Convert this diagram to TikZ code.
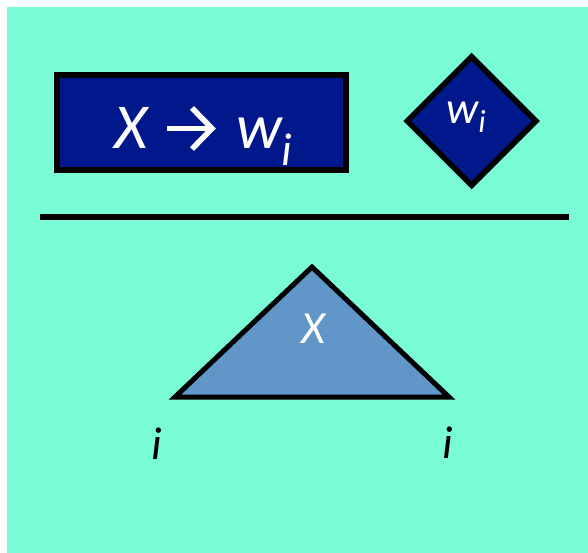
\documentclass[tikz,border=0pt]{standalone}
\usepackage{fontspec}
\setmainfont{Carlito}
\usetikzlibrary{shapes.geometric}
\definecolor{aqua}{HTML}{79FCD6}
\definecolor{navy}{HTML}{00188C}
\definecolor{steel}{HTML}{6096C8}
\tikzset{
  bluebox/.style={draw=black, fill=navy, line width=5.5pt, inner sep=0pt},
  wtext/.style={text=white, inner sep=0pt, anchor=base, font=\itshape},
  btext/.style={text=black, inner sep=0pt, anchor=base, font=\itshape},
  glyph/.style={draw=white, line width=5.5pt, line join=miter},
}
\begin{document}
\begin{tikzpicture}[x=1pt,y=-1pt]
\useasboundingbox (0,0) rectangle (588,553);
\fill[aqua] (7,7) rectangle (588,553);
% rule
\coordinate (l1) at (40,217);
\coordinate (l2) at (569,217);
\draw[line width=5pt] (l1) -- (l2);
% rectangle
\node[bluebox, minimum width=289pt, minimum height=95pt] (box) at (201.5,122.5) {};
\node[wtext] (lhs) at (131,148.5) {\fontsize{64}{64}\selectfont X};
\coordinate (as) at (167,128.5);
\coordinate (at) at (212,128.5);
\coordinate (au) at (192,108);
\coordinate (ad) at (192,149);
\draw[glyph] (as) -- (at);
\draw[glyph] (au) -- (at) -- (ad);
\node[wtext, anchor=base west] (rhs) at (236,148.5) {\fontsize{64}{64}\selectfont w\raisebox{-0.27em}{\fontsize{46}{46}\selectfont i}};
% diamond
\node[bluebox, diamond, aspect=1, minimum width=131pt, minimum height=131pt] (dia) at (471.5,121) {};
\node[wtext] (wi) at (466,124) {\fontsize{45}{45}\selectfont w\raisebox{-0.2em}{\fontsize{32}{32}\selectfont i}};
% triangle
\coordinate (apex) at (312,267);
\coordinate (bl) at (175,397);
\coordinate (br) at (449,397);
\draw[fill=steel, line width=5pt, line join=miter] (apex) -- (bl) -- (br) -- cycle;
\node[wtext] (X) at (313,343) {\fontsize{46}{46}\selectfont X};
\node[btext] (il) at (157,459) {\fontsize{46}{46}\selectfont i};
\node[btext] (ir) at (448,458) {\fontsize{46}{46}\selectfont i};
\end{tikzpicture}
\end{document}
